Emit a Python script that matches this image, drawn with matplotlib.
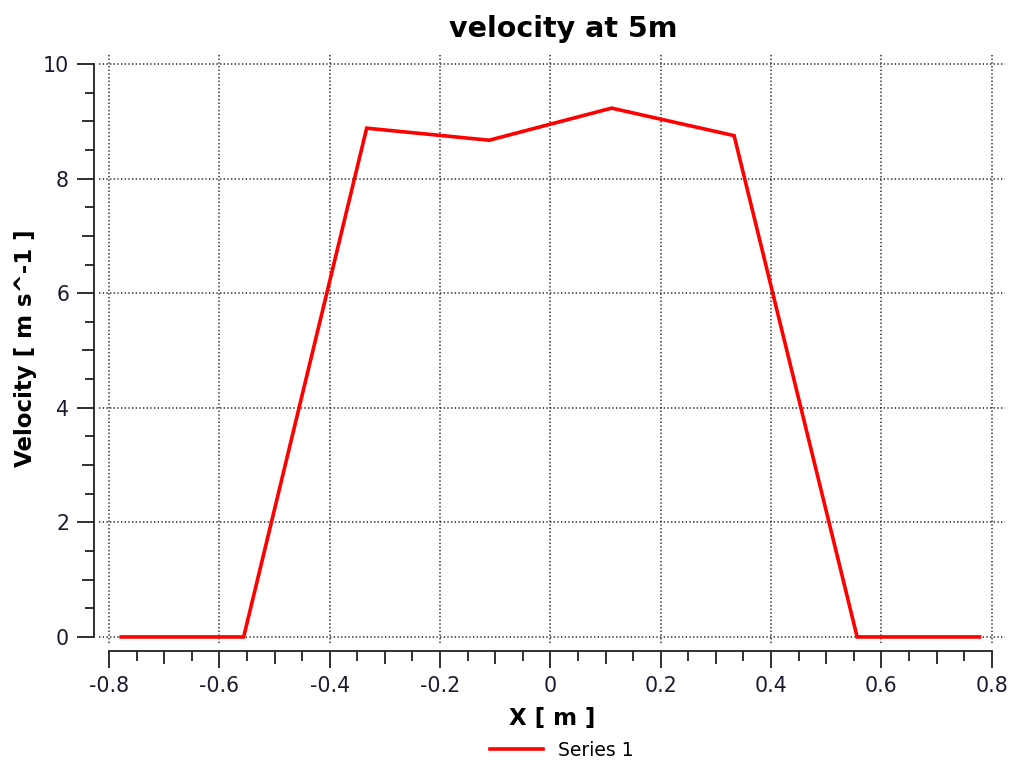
import matplotlib
matplotlib.use('Agg')
import matplotlib.pyplot as plt
import numpy as np

# velocity profile sampled across the section
X_POS = [-0.778, -0.556, -0.333, -0.111, 0.111, 0.333, 0.556, 0.778]
VELOCITY = [0.0, 0.0, 8.88, 8.67, 9.23, 8.75, 0.0, 0.0]
SERIES_NAME = 'Series 1'

TITLE = 'velocity at 5m'
X_LABEL = 'X [ m ]'
Y_LABEL = 'Velocity [ m s^-1 ]'

X_MAJOR = [-0.8, -0.6, -0.4, -0.2, 0.0, 0.2, 0.4, 0.6, 0.8]
Y_MAJOR = [0, 2, 4, 6, 8, 10]

plt.rcParams['font.family'] = ['DejaVu Sans']


def minor_ticks(axis, mid_step, short, long):
    # minor ticks on `mid_step` drawn a bit longer than the rest
    locs = axis.get_minorticklocs()
    ticks = axis.get_minor_ticks(len(locs))
    for tick, loc in zip(ticks, locs):
        ratio = loc / mid_step
        size = long if abs(ratio - round(ratio)) < 1e-6 else short
        tick.tick1line.set_markersize(size)


fig = plt.figure(figsize=(10.18, 7.68), dpi=100)
ax = fig.add_axes([0.0973, 0.1628, 0.8897, 0.7669])

ax.plot(X_POS, VELOCITY, color='#ff0000', lw=2.6, label=SERIES_NAME,
        solid_joinstyle='miter', zorder=3)

ax.set_xlim(-0.8181, 0.8236)
ax.set_ylim(-0.105, 10.175)

for side in ['top', 'right']:
    ax.spines[side].set_visible(False)
ax.spines['left'].set_position(('outward', 3.6))
ax.spines['bottom'].set_position(('outward', 5.8))
ax.spines['left'].set_bounds(0, 10)
ax.spines['bottom'].set_bounds(-0.8, 0.8)
for side in ['left', 'bottom']:
    ax.spines[side].set_linewidth(1.3)
    ax.spines[side].set_color('#202020')

ax.set_xticks(X_MAJOR)
ax.set_xticklabels([f'{v:g}' for v in X_MAJOR])
ax.set_yticks(Y_MAJOR)

x_minor = [v for v in np.round(np.arange(-0.8, 0.801, 0.05), 2)
           if abs(v / 0.2 - round(v / 0.2)) > 1e-6]
y_minor = [v for v in np.arange(0, 10.01, 0.5) if v % 2 != 0]
ax.set_xticks(x_minor, minor=True)
ax.set_yticks(y_minor, minor=True)

ax.tick_params(which='major', direction='out', length=12, width=1.3,
               color='#202020', labelsize=14.8, labelcolor='#1a1a2e', pad=6)
ax.tick_params(which='minor', direction='out', length=7, width=1.3,
               color='#202020')

ax.grid(True, which='major', linestyle=(0, (0.9, 1.5)), lw=1.1,
        color='#2a2a2a')

ax.set_title(TITLE, fontsize=20.5, fontweight='bold', x=0.513, pad=12)
ax.set_xlabel(X_LABEL, fontsize=16.5, fontweight='bold', labelpad=8)
ax.set_ylabel(Y_LABEL, fontsize=16.5, fontweight='bold', labelpad=4)

fig.legend(loc='center', bbox_to_anchor=(0.552, 0.023), frameon=False,
           fontsize=13.5, handlelength=2.8, handletextpad=0.8)

minor_ticks(ax.xaxis, 0.1, 7.0, 9.4)
minor_ticks(ax.yaxis, 1.0, 6.6, 8.8)

fig.savefig('out.png', dpi=100)
